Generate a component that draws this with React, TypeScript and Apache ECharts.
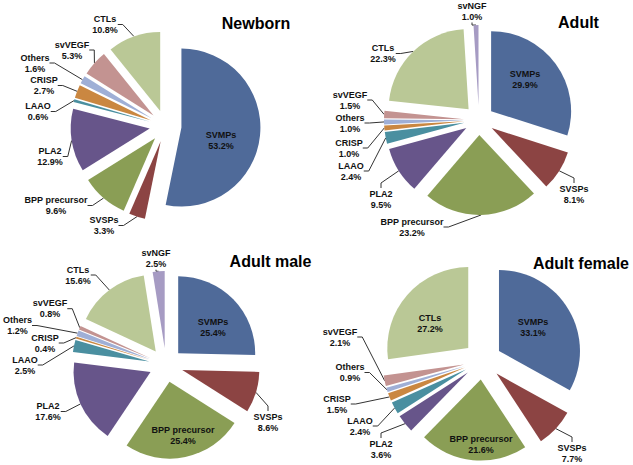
import React, { useEffect, useRef } from "react";
import * as echarts from "echarts";

const categories = ["SVMPs", "SVSPs", "BPP precursor", "PLA2", "LAAO", "CRISP", "Others", "svVEGF", "CTLs", "svNGF"];
const colors = ["#4F6A99", "#8C4443", "#8A9E55", "#67558A", "#4A8FA0", "#CA8741", "#9FAFD6", "#C39391", "#BAC896", "#A69BC3"];

const newbornValues = [53.2, 3.3, 9.6, 12.9, 0.6, 2.7, 1.6, 5.3, 10.8, null];
const adultValues = [29.9, 8.1, 23.2, 9.5, 2.4, 1.0, 1.0, 1.5, 22.3, 1.0];
const adultMaleValues = [25.4, 8.6, 25.4, 17.6, 2.5, 0.4, 1.2, 0.8, 15.6, 2.5];
const adultFemaleValues = [33.1, 7.7, 21.6, 3.6, 2.4, 1.5, 0.9, 2.1, 27.2, null];

const titles = ["Newborn", "Adult", "Adult male", "Adult female"];

// layout (not data): label block centres
const newbornLabelPos = [[221, 140.5], [104, 225.5], [56, 205.5], [50, 156.5], [38, 111.5], [44, 85.5], [35, 63], [72, 50], [105, 24.5], null];
const adultLabelPos = [[525, 79], [574, 194], [412, 227], [381, 199], [351, 171], [349, 148], [350, 123], [350, 100], [383, 53.5], [472, 11.5]];
const adultMaleLabelPos = [[213, 327], [268, 422], [183, 435.5], [48, 411.5], [25, 365], [45, 343], [17.5, 325.5], [50, 308.7], [78, 275], [156, 258.7]];
const adultFemaleLabelPos = [[533, 327], [572, 453], [481, 444], [381, 449], [360, 426], [337, 404], [350, 372.5], [340, 337], [430, 323.5], null];

const FONT = "'Liberation Sans', Arial, sans-serif";

// One pie series per slice: each series holds the whole pie, but only one slice is
// painted; the series centre is pushed out along that slice's bisector (exploded pie).
function buildPie(
  values: (number | null)[],
  labelPos: (number[] | null)[],
  inside: string[],
  center: number[],
  radius: number,
  offset: number
) {
  const idx: number[] = [];
  values.forEach((v, i) => {
    if (v != null) idx.push(i);
  });
  const total = idx.reduce((s, i) => s + (values[i] as number), 0);
  const series: any[] = [];
  let cum = 0;
  idx.forEach((i, k) => {
    const v = values[i] as number;
    const mid = ((cum + v / 2) / total) * 2 * Math.PI;
    cum += v;
    const cx = center[0] + offset * Math.sin(mid);
    const cy = center[1] - offset * Math.cos(mid);
    const isInside = inside.indexOf(categories[i]) >= 0;
    const p = labelPos[i] as number[];
    series.push({
      type: "pie",
      center: [cx, cy],
      radius,
      startAngle: 90,
      clockwise: true,
      avoidLabelOverlap: false,
      silent: true,
      emphasis: { disabled: true },
      itemStyle: { borderWidth: 0 },
      label: {
        show: false,
        formatter: (pp: any) => pp.name + "\n" + Number(pp.value).toFixed(1) + "%",
        fontFamily: FONT,
        fontWeight: "bold",
        fontSize: 9,
        lineHeight: 11,
        color: "#111",
      },
      labelLine: {
        show: false,
        length: 4,
        length2: 5,
        lineStyle: { color: "#333", width: 1 },
      },
      labelLayout: (params: any) => {
        if (params.dataIndex !== k) return {};
        return { x: p[0], y: p[1], align: "center", verticalAlign: "middle" };
      },
      data: idx.map((j, kk) => ({
        name: categories[j],
        value: values[j],
        itemStyle: { color: kk === k ? colors[j] : "rgba(0,0,0,0)", borderWidth: 0 },
        label: { show: kk === k, position: isInside ? "inside" : "outside" },
        labelLine: { show: kk === k && !isInside },
      })),
    });
  });
  return series;
}

export default function App() {
  const ref = useRef<HTMLDivElement>(null);
  useEffect(() => {
    if (!ref.current) return;
    const chart = echarts.init(ref.current, undefined, { renderer: "svg" });
    const titlePos = [[256, 23], [578.5, 22], [270.5, 261], [581, 263]];
    chart.setOption({
      animation: false,
      backgroundColor: "#ffffff",
      graphic: titles.map((t, i) => ({
        type: "text",
        x: titlePos[i][0],
        y: titlePos[i][1],
        style: {
          text: t,
          font: `bold 16px ${FONT}`,
          fill: "#000",
          textAlign: "center",
          textVerticalAlign: "middle",
        },
      })),
      series: [
        ...buildPie(newbornValues, newbornLabelPos, ["SVMPs"], [165.5, 126], 79, 16),
        ...buildPie(adultValues, adultLabelPos, ["SVMPs"], [479, 120], 80, 15),
        ...buildPie(adultMaleValues, adultMaleLabelPos, ["SVMPs", "BPP precursor"], [166, 365], 77, 17),
        ...buildPie(adultFemaleValues, adultFemaleLabelPos, ["SVMPs", "BPP precursor", "CTLs"], [482.6, 360.6], 81, 19),
      ],
    });
    return () => chart.dispose();
  }, []);
  return (
    <div
      ref={ref}
      style={{ position: "fixed", left: 0, top: 0, width: 633, height: 465, background: "#fff" }}
    />
  );
}
